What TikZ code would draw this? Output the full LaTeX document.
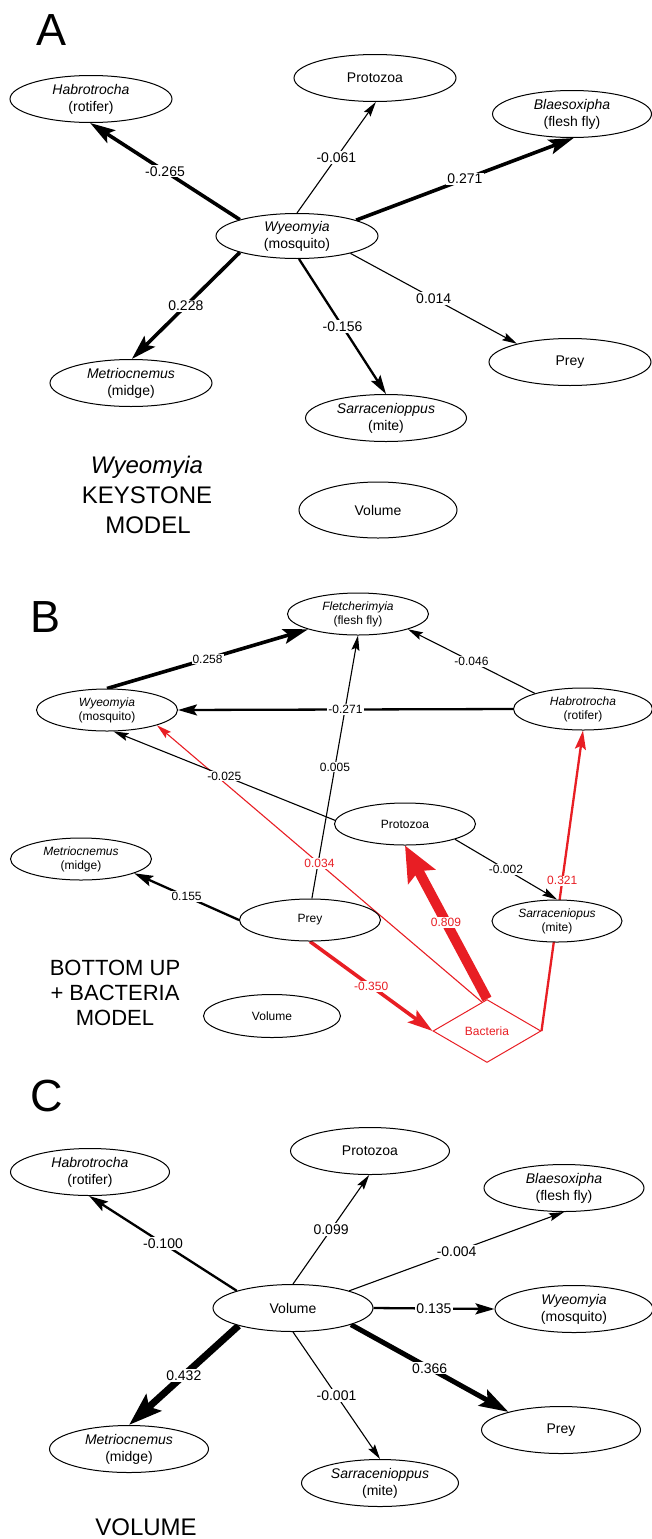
\documentclass[tikz,border=0pt]{standalone}
\usepackage{fontspec}
\setmainfont{Liberation Sans}
\usetikzlibrary{arrows.meta,shapes.geometric}
\definecolor{bred}{RGB}{232,30,36}
\pgfdeclarelayer{bg}
\pgfdeclarelayer{lb}
\pgfsetlayers{bg,lb,main}
\newcommand\myconn[5]{%
  \begin{pgfonlayer}{bg}\draw[#1] (#2) -- (#3);\end{pgfonlayer}%
  \begin{pgfonlayer}{lb}\path (#2) -- node[#4] {#5} (#3);\end{pgfonlayer}}
\begin{document}
\begin{tikzpicture}[x=1pt,y=-1pt,
  nd/.style={ellipse,draw,line width=1pt,fill=white,inner sep=0pt,align=center},
  nA/.style={nd,minimum width=162pt,minimum height=47pt,font=\fontsize{14}{17}\selectfont},
  nB/.style={nd,minimum width=141pt,minimum height=42pt,font=\fontsize{12}{14}\selectfont},
  lA/.style={fill=white,inner sep=1.2pt,font=\fontsize{14}{14}\selectfont},
  lB/.style={fill=white,inner sep=1pt,font=\fontsize{12}{12}\selectfont},
  lR/.style={lB,text=bred},
  w1/.style={line width=1.1pt,-{Stealth[length=15pt,width=8pt,inset=2.5pt]}},
  w2/.style={line width=2.3pt,-{Stealth[length=19pt,width=11pt,inset=3.5pt]}},
  w3/.style={line width=3.6pt,-{Stealth[length=25pt,width=15pt,inset=5pt]}},
  w4/.style={line width=5pt,-{Stealth[length=29pt,width=18pt,inset=5pt]}},
  w5/.style={line width=7pt,-{Stealth[length=33pt,width=22pt,inset=6pt]}},
  w6/.style={line width=10pt,-{Stealth[length=35pt,width=30pt,inset=6pt]}},
  ttl/.style={font=\fontsize{45}{45}\selectfont},
  mdl/.style={anchor=base,font=\fontsize{24}{24}\selectfont},
  mdlB/.style={anchor=base,font=\fontsize{22}{22}\selectfont}]
\useasboundingbox (0,0) rectangle (652,1539);

% ---------------- Panel A ----------------
\node[ttl] (tA) at (52,30) {A};
\node[nA] (hA) at (91,99) {\textit{Habrotrocha}\\(rotifer)};
\node[nA] (pA) at (375,78) {Protozoa};
\node[nA,minimum width=159pt] (bA) at (572,114) {\textit{Blaesoxipha}\\(flesh fly)};
\node[nA,minimum height=45pt] (wA) at (297,236) {\textit{Wyeomyia}\\(mosquito)};
\node[nA] (mA) at (131,383) {\textit{Metriocnemus}\\(midge)};
\node[nA,minimum width=161pt] (sA) at (386,418) {\textit{Sarracenioppus}\\(mite)};
\node[nA] (yA) at (570,362) {Prey};
\node[nA,minimum width=158pt,minimum height=56pt] (vA) at (378,510) {Volume};
\node[mdl] (mA1) at (147,473.6) {\textit{Wyeomyia}};
\node[mdl] (mA2) at (147,503.6) {KEYSTONE};
\node[mdl] (mA3) at (148,533.6) {MODEL};

\myconn{w3}{wA.164}{hA.-92}{lA}{-0.265}
\myconn{w1}{wA.90}{pA.-88}{lA}{-0.061}
\myconn{w3}{wA.15}{bA.-86}{lA}{0.271}
\myconn{w1}{wA.-18}{yA.161}{lA}{0.014}
\myconn{w2}{wA.-85}{sA.90}{lA}{-0.156}
\myconn{w3}{wA.196}{mA.88}{lA}{0.228}

% ---------------- Panel B ----------------
\node[ttl] (tB) at (46,617) {B};
\node[nB] (fB) at (358,614) {\textit{Fletcherimyia}\\(flesh fly)};
\node[nB] (wB) at (107,710) {\textit{Wyeomyia}\\(mosquito)};
\node[nB,minimum width=139pt] (hB) at (583,709) {\textit{Habrotrocha}\\(rotifer)};
\node[nB] (pB) at (405,824) {Protozoa};
\node[nB,minimum width=130pt] (sB) at (557,921) {\textit{Sarraceniopus}\\(mite)};
\node[nB] (mB) at (81,859) {\textit{Metriocnemus}\\(midge)};
\node[nB] (yB) at (310,920) {Prey};
\node[nB,minimum width=137pt,minimum height=43pt] (vB) at (272,1016) {Volume};
\node[diamond,draw=bred,line width=1pt,text=bred,minimum width=108pt,minimum height=63pt,inner sep=0pt,font=\fontsize{12}{12}\selectfont] (bac) at (487,1031) {Bacteria};
\node[mdlB] (mB1) at (115,975) {BOTTOM UP};
\node[mdlB] (mB2) at (115,1000) {+ BACTERIA};
\node[mdlB] (mB3) at (115,1025) {MODEL};

\myconn{w1,bred}{bac.100}{wB.-17}{lR}{0.034}
\myconn{w1}{yB.85}{fB.-90}{lB}{0.005}
\myconn{w3}{wB.90}{fB.197}{lB}{0.258}
\myconn{w1}{hB.162}{fB.-17}{lB}{-0.046}
\myconn{w2}{hB.180}{wB.0}{lB}{-0.271}
\myconn{w1}{pB.177}{wB.-73}{lB}{-0.025}
\myconn{w6,bred}{bac.north}{pB.-90}{lR}{0.809}
\myconn{w3,bred}{yB.-90}{bac.west}{lR}{-0.350}
\myconn{w2,bred}{bac.east}{hB.-90}{lR}{0.321}
\myconn{w1}{pB.-17}{sB.90}{lB}{-0.002}
\myconn{w2}{yB.180}{mB.-15}{lB}{0.155}

% ---------------- Panel C ----------------
\node[ttl] (tC) at (47,1096) {C};
\node[nA,minimum width=159pt] (hC) at (90,1172) {\textit{Habrotrocha}\\(rotifer)};
\node[nA,minimum width=159pt] (pC) at (370,1151) {Protozoa};
\node[nA,minimum width=160pt] (bC) at (564,1188) {\textit{Blaesoxipha}\\(flesh fly)};
\node[nA,minimum width=160pt] (vC) at (293,1308) {Volume};
\node[nA,minimum width=158pt] (wC) at (574,1309) {\textit{Wyeomyia}\\(mosquito)};
\node[nA,minimum width=159pt] (yC) at (561,1430) {Prey};
\node[nA,minimum width=157pt] (sC) at (380,1483) {\textit{Sarracenioppus}\\(mite)};
\node[nA,minimum width=159pt] (mC) at (129,1449) {\textit{Metriocnemus}\\(midge)};
\node[mdl] (mC1) at (146,1535) {VOLUME};

\myconn{w2}{vC.163}{hC.-92}{lA}{-0.100}
\myconn{w1}{vC.90}{pC.-92}{lA}{0.099}
\myconn{w1}{vC.17}{bC.-90}{lA}{-0.004}
\myconn{w2}{vC.0}{wC.180}{lA}{0.135}
\myconn{w4}{vC.-16}{yC.161}{lA}{0.366}
\myconn{w1}{vC.-90}{sC.90}{lA}{-0.001}
\myconn{w5}{vC.198}{mC.90}{lA}{0.432}
\end{tikzpicture}
\end{document}
